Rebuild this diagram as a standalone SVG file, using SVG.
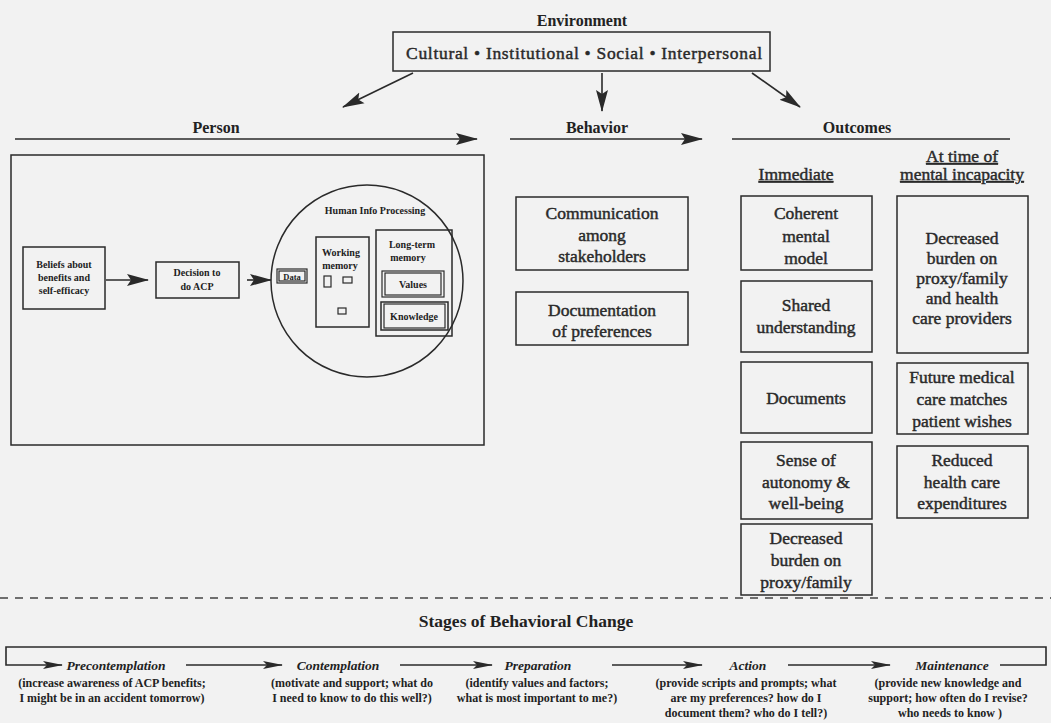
<svg xmlns="http://www.w3.org/2000/svg" width="1051" height="723" viewBox="0 0 1051 723">
<style>
.bg{fill:#f2f2f2}
.box{fill:none;stroke:#2a2a2a;stroke-width:1.5}
.thin{fill:none;stroke:#2a2a2a;stroke-width:1.2}
.ln{fill:none;stroke:#2a2a2a;stroke-width:1.6}
.t{font-family:"Liberation Serif","Times New Roman",serif;fill:#222;text-anchor:middle;font-weight:bold}
.hd{font-size:16px}
.bx{font-size:17.5px;font-weight:normal;fill:#2a2a2a;stroke:#2a2a2a;stroke-width:0.45}
.sm{font-size:10px}
.st{font-size:13.5px;font-style:italic}
.ds{font-size:12px}
.ul{text-decoration:underline}
</style>
<defs>
<marker id="ah" markerWidth="20" markerHeight="10" refX="19" refY="5" orient="auto" markerUnits="userSpaceOnUse"><path d="M0,1 L20,5 L0,9 L4,5 z" fill="#2a2a2a"/></marker>
<marker id="ahb" markerWidth="22" markerHeight="14" refX="21" refY="7" orient="auto" markerUnits="userSpaceOnUse"><path d="M0,1 L22,7 L0,13 L4,7 z" fill="#2a2a2a"/></marker>
</defs>
<rect class="bg" x="0" y="0" width="1051" height="723"/>

<g id="environment">
<text class="t hd" x="582" y="26">Environment</text>
<rect class="box" x="393" y="32" width="377" height="39"/>
<text class="t bx" x="584" y="59" textLength="356" lengthAdjust="spacing">Cultural • Institutional • Social • Interpersonal</text>
</g>

<g id="headers">
<text class="t hd" x="216" y="133">Person</text>
<text class="t hd" x="597" y="133">Behavior</text>
<text class="t hd" x="857" y="133">Outcomes</text>
</g>

<g id="person">
<rect class="box" x="11" y="155" width="473" height="290"/>
</g>
<g id="beliefs">
<rect class="box" x="23" y="247" width="82" height="62"/>
<text class="t sm" x="64" y="268">Beliefs about</text>
<text class="t sm" x="64" y="281">benefits and</text>
<text class="t sm" x="64" y="294">self-efficacy</text>
</g>
<g id="decision">
<rect class="box" x="156" y="262" width="83" height="36"/>
<text class="t sm" x="197" y="276">Decision to</text>
<text class="t sm" x="197" y="290">do ACP</text>
</g>
<g id="hip">
<circle class="box" cx="367" cy="281" r="96"/>
<text class="t sm" x="375" y="214">Human Info Processing</text>
</g>
<g id="data">
<rect class="thin" x="277" y="269" width="30" height="14"/>
<rect class="thin" x="279" y="271" width="26" height="10"/>
<text class="t" x="292" y="279.5" font-size="8.5px">Data</text>
</g>
<g id="working">
<rect class="box" x="316" y="237" width="53" height="90"/>
<text class="t sm" x="341" y="256">Working</text>
<text class="t sm" x="340" y="269">memory</text>
<rect class="thin" x="324" y="276" width="7" height="11"/>
<rect class="thin" x="343" y="277" width="9" height="6"/>
<rect class="thin" x="338" y="308" width="8" height="6"/>
</g>
<g id="longterm">
<rect class="box" x="376" y="230" width="76" height="106"/>
<text class="t sm" x="412" y="248">Long-term</text>
<text class="t sm" x="408" y="261">memory</text>
</g>
<g id="values">
<rect class="thin" x="382" y="271" width="62" height="26"/>
<rect class="thin" x="385" y="273" width="56" height="22"/>
<text class="t sm" x="413" y="288">Values</text>
</g>
<g id="knowledge">
<rect class="box" x="381" y="302" width="67" height="28"/>
<rect class="thin" x="384" y="304" width="61" height="24"/>
<text class="t sm" x="414" y="320">Knowledge</text>
</g>

<g id="communication">
<rect class="box" x="516" y="197" width="172" height="73"/>
<text class="t bx" x="602" y="219">Communication</text>
<text class="t bx" x="602" y="241">among</text>
<text class="t bx" x="602" y="262">stakeholders</text>
</g>
<g id="documentation">
<rect class="box" x="516" y="292" width="172" height="53"/>
<text class="t bx" x="602" y="316">Documentation</text>
<text class="t bx" x="602" y="337">of preferences</text>
</g>

<g id="immediate-header">
<text class="t bx ul" x="796" y="180">Immediate</text>
</g>
<g id="time-header">
<text class="t bx ul" x="962" y="162">At time of</text>
<text class="t bx ul" x="962" y="180">mental incapacity</text>
</g>

<g id="coherent">
<rect class="box" x="741" y="196" width="131" height="74"/>
<text class="t bx" x="806" y="219">Coherent</text>
<text class="t bx" x="806" y="242">mental</text>
<text class="t bx" x="806" y="264">model</text>
</g>
<g id="shared">
<rect class="box" x="741" y="281" width="131" height="71"/>
<text class="t bx" x="806" y="311">Shared</text>
<text class="t bx" x="806" y="333">understanding</text>
</g>
<g id="documents">
<rect class="box" x="741" y="362" width="131" height="71"/>
<text class="t bx" x="806" y="404">Documents</text>
</g>
<g id="autonomy">
<rect class="box" x="741" y="442" width="131" height="77"/>
<text class="t bx" x="806" y="466">Sense of</text>
<text class="t bx" x="806" y="488">autonomy &amp;</text>
<text class="t bx" x="806" y="509">well-being</text>
</g>
<g id="burden-immediate">
<rect class="box" x="741" y="524" width="131" height="71"/>
<text class="t bx" x="806" y="544">Decreased</text>
<text class="t bx" x="806" y="566">burden on</text>
<text class="t bx" x="806" y="588">proxy/family</text>
</g>

<g id="burden-later">
<rect class="box" x="897" y="196" width="131" height="157"/>
<text class="t bx" x="962" y="244">Decreased</text>
<text class="t bx" x="962" y="264">burden on</text>
<text class="t bx" x="962" y="284">proxy/family</text>
<text class="t bx" x="962" y="304">and health</text>
<text class="t bx" x="962" y="324">care providers</text>
</g>
<g id="future-care">
<rect class="box" x="897" y="363" width="131" height="71"/>
<text class="t bx" x="962" y="383">Future medical</text>
<text class="t bx" x="962" y="405">care matches</text>
<text class="t bx" x="962" y="427">patient wishes</text>
</g>
<g id="reduced">
<rect class="box" x="897" y="446" width="131" height="72"/>
<text class="t bx" x="962" y="466">Reduced</text>
<text class="t bx" x="962" y="488">health care</text>
<text class="t bx" x="962" y="509">expenditures</text>
</g>

<g id="stages">
<line x1="0" y1="598" x2="1051" y2="598" stroke="#444" stroke-width="1.5" stroke-dasharray="8,7"/>
<text class="t" x="526" y="627" font-size="17.5px">Stages of Behavioral Change</text>
<text class="t st" x="116" y="670">Precontemplation</text>
<text class="t ds" x="112" y="687">(increase awareness of ACP benefits;</text>
<text class="t ds" x="112" y="702">I might be in an accident tomorrow)</text>
<text class="t st" x="338" y="670">Contemplation</text>
<text class="t ds" x="352" y="687">(motivate and support; what do</text>
<text class="t ds" x="352" y="702">I need to know to do this well?)</text>
<text class="t st" x="538" y="670">Preparation</text>
<text class="t ds" x="537" y="687">(identify values and factors;</text>
<text class="t ds" x="537" y="702">what is most important to me?)</text>
<text class="t st" x="748" y="670">Action</text>
<text class="t ds" x="746" y="687">(provide scripts and prompts; what</text>
<text class="t ds" x="746" y="702">are my preferences? how do I</text>
<text class="t ds" x="746" y="717">document them? who do I tell?)</text>
<text class="t st" x="952" y="670">Maintenance</text>
<text class="t ds" x="948" y="687">(provide new knowledge and</text>
<text class="t ds" x="948" y="702">support; how often do I revise?</text>
<text class="t ds" x="950" y="717">who needs to know )</text>
</g>

<g id="connectors">
<line class="ln" x1="413" y1="73" x2="343" y2="107" marker-end="url(#ahb)"/>
<line class="ln" x1="602" y1="73" x2="602" y2="111" marker-end="url(#ahb)"/>
<line class="ln" x1="752" y1="73" x2="800" y2="107" marker-end="url(#ahb)"/>
<line class="ln" x1="15" y1="139" x2="477" y2="139" marker-end="url(#ahb)"/>
<line class="ln" x1="510" y1="139" x2="702" y2="139" marker-end="url(#ahb)"/>
<line class="ln" x1="732" y1="139" x2="1010" y2="139"/>
<line class="ln" x1="106" y1="280" x2="148" y2="280" marker-end="url(#ahb)"/>
<line class="ln" x1="247" y1="280" x2="271" y2="280" marker-end="url(#ahb)"/>
<path class="ln" d="M1000,665 H1046 V647 H6 V665 H62" marker-end="url(#ah)"/>
<line class="ln" x1="186" y1="665" x2="282" y2="665" marker-end="url(#ah)"/>
<line class="ln" x1="400" y1="665" x2="492" y2="665" marker-end="url(#ah)"/>
<line class="ln" x1="612" y1="665" x2="702" y2="665" marker-end="url(#ah)"/>
<line class="ln" x1="788" y1="665" x2="890" y2="665" marker-end="url(#ah)"/>
</g>
</svg>
